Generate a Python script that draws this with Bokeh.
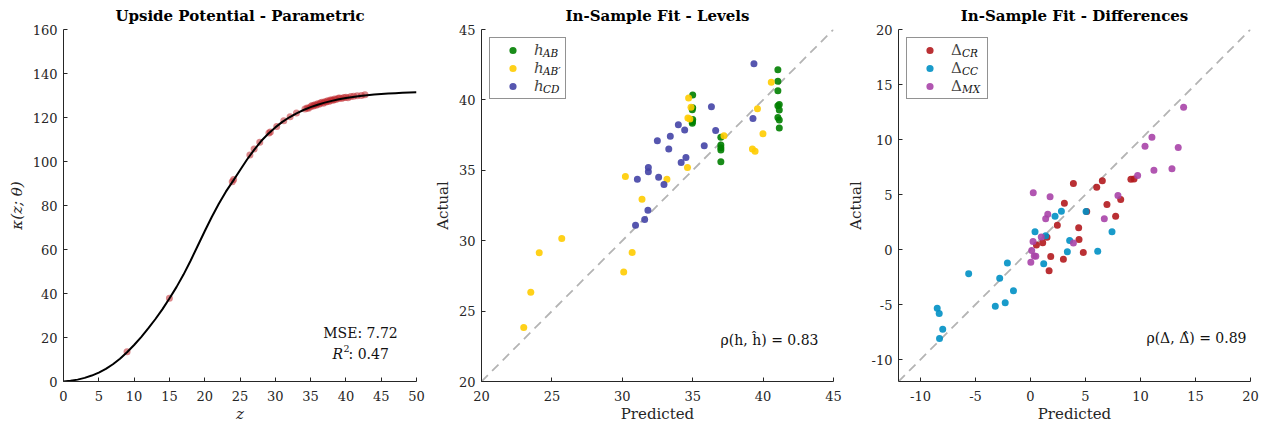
from bokeh.plotting import figure
from bokeh.layouts import row
from bokeh.models import FixedTicker, Legend, LegendItem, Label, Range1d
from bokeh.embed import file_html
from bokeh.resources import INLINE

# ---------------- data ----------------
# Panel 1: fitted curve kappa(z; theta) read off the picture, and observed points
z_curve = [0, 1, 2, 3, 4, 5, 6, 7, 8, 9, 10, 11, 12, 13, 14, 15, 16, 17, 18, 19, 20,
           21, 22, 23, 24, 25, 26, 27, 28, 29, 30, 31, 32, 33, 34, 35, 36, 37, 38, 39, 40,
           41, 42, 43, 44, 45, 46, 47, 48, 49, 50]
k_curve = [0, 0.3, 0.85, 1.65, 2.7, 4.05, 5.75, 7.85, 10.35, 13.3, 16.6, 20.2, 24.1, 28.3,
           32.8, 37.7, 42.9, 48.6, 54.9, 61.6, 68.3, 74.8, 80.8, 86.3, 91.1, 96.0, 100.9,
           105.3, 109.3, 112.6, 115.5, 118.0, 120.1, 121.9, 123.4, 124.7, 125.8, 126.75,
           127.55, 128.25, 128.85, 129.35, 129.78, 130.14, 130.44, 130.69, 130.9, 131.07,
           131.21, 131.33, 131.43]
z_obs = [9.0, 15.0, 23.9, 24.1, 26.4, 27.0, 27.8, 29.1, 29.3, 30.2, 31.2, 32.1, 33.0, 34.2,
         34.5, 34.7, 35.0, 35.2, 35.4, 35.6, 35.8, 36.0, 36.2, 36.4, 36.6, 36.8, 37.0, 37.2,
         37.4, 37.6, 37.8, 38.0, 38.2, 38.4, 38.6, 38.9, 39.1, 39.4, 39.7, 40.0, 40.3, 40.7,
         41.1, 41.6, 42.2, 42.7]
k_obs = [13.5, 37.8, 90.8, 91.8, 103.0, 105.7, 108.8, 113.0, 113.4, 115.9, 118.5, 120.3,
         122.1, 123.9, 124.3, 124.2, 124.9, 125.5, 125.2, 125.8, 125.6, 126.2, 126.0, 126.6,
         126.9, 126.5, 127.2, 127.0, 127.6, 127.3, 127.9, 128.0, 127.8, 128.4, 128.2, 128.7,
         128.9, 128.6, 129.1, 129.2, 129.0, 129.5, 129.7, 129.9, 130.0, 130.3]
p1_xticks = [0, 5, 10, 15, 20, 25, 30, 35, 40, 45, 50]
p1_yticks = [0, 20, 40, 60, 80, 100, 120, 140, 160]

# Panel 2: levels (predicted, actual)
ab_pred = [35.0, 35.0, 34.97, 35.0, 34.98, 34.97, 37.0, 37.0, 37.0, 37.0, 37.0, 41.05, 41.05,
           41.05, 41.05, 41.15, 41.15, 41.05, 41.15, 41.15]
ab_act = [40.35, 39.45, 39.3, 38.6, 38.45, 38.35, 37.35, 36.8, 36.6, 36.45, 35.6, 42.15, 41.33,
          40.65, 39.58, 39.68, 39.28, 38.75, 38.58, 38.0]
abp_pred = [23.0, 23.5, 24.1, 25.7, 30.22, 30.1, 30.7, 31.4, 33.17, 34.71, 34.88, 34.66, 34.8,
            34.63, 37.22, 40.58, 39.6, 39.99, 39.24, 39.43]
abp_act = [23.83, 26.34, 29.14, 30.16, 34.56, 27.77, 29.16, 32.94, 34.37, 40.13, 39.47, 38.72,
           38.65, 35.2, 37.45, 41.25, 39.37, 37.6, 36.52, 36.36]
cd_pred = [39.35, 39.28, 36.33, 36.63, 35.82, 34.52, 34.18, 34.43, 33.98, 33.41, 33.3, 32.49,
           31.85, 31.85, 32.58, 32.96, 31.07, 31.82, 31.59, 30.94]
cd_act = [42.57, 38.68, 39.51, 37.82, 36.74, 35.91, 35.55, 37.86, 38.23, 37.42, 36.52, 37.09,
          35.2, 34.9, 34.5, 34.0, 34.37, 32.16, 31.5, 31.09]
p2_ticks = [20, 25, 30, 35, 40, 45]
p2_diag = [20, 45]

# Panel 3: differences (predicted, actual)
cr_pred = [3.9, 6.02, 6.53, 9.13, 9.41, 8.2, 6.95, 7.74, 5.11, 3.08, 2.44, 4.38, 4.41, 4.8,
           2.99, 1.84, 1.69, 1.5, 1.11, 0.54]
cr_act = [6.0, 5.67, 6.24, 6.39, 6.42, 4.55, 4.09, 3.03, 3.45, 4.21, 2.21, 1.97, 0.91, -0.27,
          -0.88, -0.64, -1.94, 1.12, 0.61, 0.42]
cc_pred = [-8.48, -8.3, -7.98, -8.27, -5.62, -2.8, -2.1, -1.55, -3.2, -2.3, 0.41, 1.38, 1.2,
           2.23, 2.81, 3.56, 3.35, 5.05, 6.11, 7.41]
cc_act = [-5.35, -5.82, -7.24, -8.09, -2.2, -2.61, -1.23, -3.75, -5.15, -4.85, 1.61, 1.24, -1.3,
          3.03, 3.48, 0.82, -0.21, 3.45, -0.15, 1.61]
mx_pred = [13.92, 11.04, 10.41, 13.43, 12.86, 11.22, 9.74, 7.95, 6.71, 3.9, 1.78, 0.25, 1.57,
           1.38, 0.98, 0.23, 0.11, 0.34, 0.48, 0.03]
mx_act = [12.94, 10.21, 9.39, 9.27, 7.33, 7.21, 6.73, 4.91, 2.79, 0.58, 4.8, 5.15, 3.21, 2.79,
          1.13, 0.73, -0.08, -0.6, -0.62, -1.16]
p3_ticks = [-10, -5, 0, 5, 10, 15, 20]
p3_diag = [-12, 20]

# ---------------- styling ----------------
FONT = "DejaVu Serif"
AXC = "#262626"
H = 428


def make_fig(title, xr, yr, xticks, yticks, width, left, right, xlabel, ylabel, italic_labels):
    p = figure(width=width, height=H, x_range=Range1d(*xr), y_range=Range1d(*yr),
               output_backend="svg", toolbar_location=None,
               min_border_left=left, min_border_right=right, min_border_top=29,
               min_border_bottom=47)
    p.outline_line_color = None
    p.xgrid.visible = False
    p.ygrid.visible = False
    p.background_fill_color = "white"
    p.border_fill_color = "white"
    p.title.text = title
    p.title.align = "center"
    p.title.text_font = FONT
    p.title.text_font_size = "15px"
    p.title.text_font_style = "bold"
    p.title.text_color = "black"
    p.title.standoff = 9
    for ax, ticks, lab in ((p.xaxis, xticks, xlabel), (p.yaxis, yticks, ylabel)):
        ax.ticker = FixedTicker(ticks=ticks)
        ax.major_label_overrides = {t: str(t) for t in ticks}
        ax.major_tick_in = 4
        ax.major_tick_out = 0
        ax.minor_tick_in = 0
        ax.minor_tick_out = 0
        ax.axis_line_color = AXC
        ax.axis_line_width = 1
        ax.major_tick_line_color = AXC
        ax.major_label_text_font = FONT
        ax.major_label_text_font_size = "13px"
        ax.major_label_text_color = AXC
        ax.axis_label = lab
        ax.axis_label_text_font = FONT
        ax.axis_label_text_font_size = "15px"
        ax.axis_label_text_color = AXC
        ax.axis_label_text_font_style = "italic" if italic_labels else "normal"
    p.xaxis.major_label_standoff = 9
    p.yaxis.major_label_standoff = 6
    p.xaxis.axis_label_standoff = 1
    p.yaxis.axis_label_standoff = 4
    return p


def lab(p, text, x, y, size="14px", style="normal", align="left", color="#111111"):
    p.add_layout(Label(x=x, y=y, x_units="screen", y_units="screen", text=text,
                       text_font=FONT, text_font_size=size, text_font_style=style,
                       text_align=align, text_baseline="middle", text_color=color,
                       level="overlay"))


# ---------------- panel 1 ----------------
p1 = make_fig("Upside Potential - Parametric", (0, 50), (0, 160), p1_xticks, p1_yticks,
              426, 63, 10, "z", "κ(z; θ)", True)
p1.scatter(z_obs, k_obs, size=7, fill_color="#c0282d", fill_alpha=0.55, line_color=None)
p1.line(z_curve, k_curve, line_color="black", line_width=2, line_join="round")
lab(p1, "MSE: 7.72", 297, 49, align="center")
lab(p1, "R", 269, 28, style="italic")
lab(p1, "2", 280, 33, size="9.5px")
lab(p1, ": 0.47", 285, 28)

# ---------------- panel 2 ----------------
p2 = make_fig("In-Sample Fit - Levels", (20, 45), (20, 45), p2_ticks, p2_ticks,
              417, 55, 10, "Predicted", "Actual", False)
p2.line(p2_diag, p2_diag, line_color="#b4b4b4", line_width=1.8, line_dash="9 6")
r_ab = p2.scatter(ab_pred, ab_act, size=7, fill_color="#008000", fill_alpha=0.9, line_color=None)
r_abp = p2.scatter(abp_pred, abp_act, size=7, fill_color="#ffcc00", fill_alpha=0.9, line_color=None)
r_cd = p2.scatter(cd_pred, cd_act, size=7, fill_color="#4444a6", fill_alpha=0.9, line_color=None)

leg_common = dict(location="top_left", margin=8, padding=3, spacing=0, glyph_width=39,
                  glyph_height=18, label_height=18, label_standoff=2,
                  label_text_font=FONT, label_text_font_size="15px",
                  border_line_color=AXC, border_line_width=1, background_fill_alpha=0)
leg2 = Legend(items=[LegendItem(label="h", renderers=[r_ab]),
                     LegendItem(label="h", renderers=[r_abp]),
                     LegendItem(label="h", renderers=[r_cd])],
              label_width=28, label_text_font_style="italic", **leg_common)
p2.add_layout(leg2)
for txt, yy in (("AB", 328.5), ("AB′", 310.5), ("CD", 292.5)):
    lab(p2, txt, 61.5, yy, size="10.5px", style="italic")
lab(p2, "ρ(h, ĥ) = 0.83", 337, 42, align="right")

# ---------------- panel 3 ----------------
p3 = make_fig("In-Sample Fit - Differences", (-12, 20), (-12, 20), p3_ticks, p3_ticks,
              416, 55, 9, "Predicted", "Actual", False)
p3.line(p3_diag, p3_diag, line_color="#b4b4b4", line_width=1.8, line_dash="9 6")
r_cr = p3.scatter(cr_pred, cr_act, size=7, fill_color="#b2191e", fill_alpha=0.9, line_color=None)
r_cc = p3.scatter(cc_pred, cc_act, size=7, fill_color="#0090c4", fill_alpha=0.9, line_color=None)
r_mx = p3.scatter(mx_pred, mx_act, size=7, fill_color="#a844a8", fill_alpha=0.9, line_color=None)
leg3 = Legend(items=[LegendItem(label="Δ", renderers=[r_cr]),
                     LegendItem(label="Δ", renderers=[r_cc]),
                     LegendItem(label="Δ", renderers=[r_mx])],
              label_width=33, label_text_font_style="normal", **leg_common)
p3.add_layout(leg3)
for txt, yy in (("CR", 328.5), ("CC", 310.5), ("MX", 292.5)):
    lab(p3, txt, 63.5, yy, size="10.5px", style="italic")
lab(p3, "ρ(Δ, Δ̂) = 0.89", 348, 44, align="right")

layout = row(p1, p2, p3)
open("out.html", "w").write(file_html(layout, INLINE))
